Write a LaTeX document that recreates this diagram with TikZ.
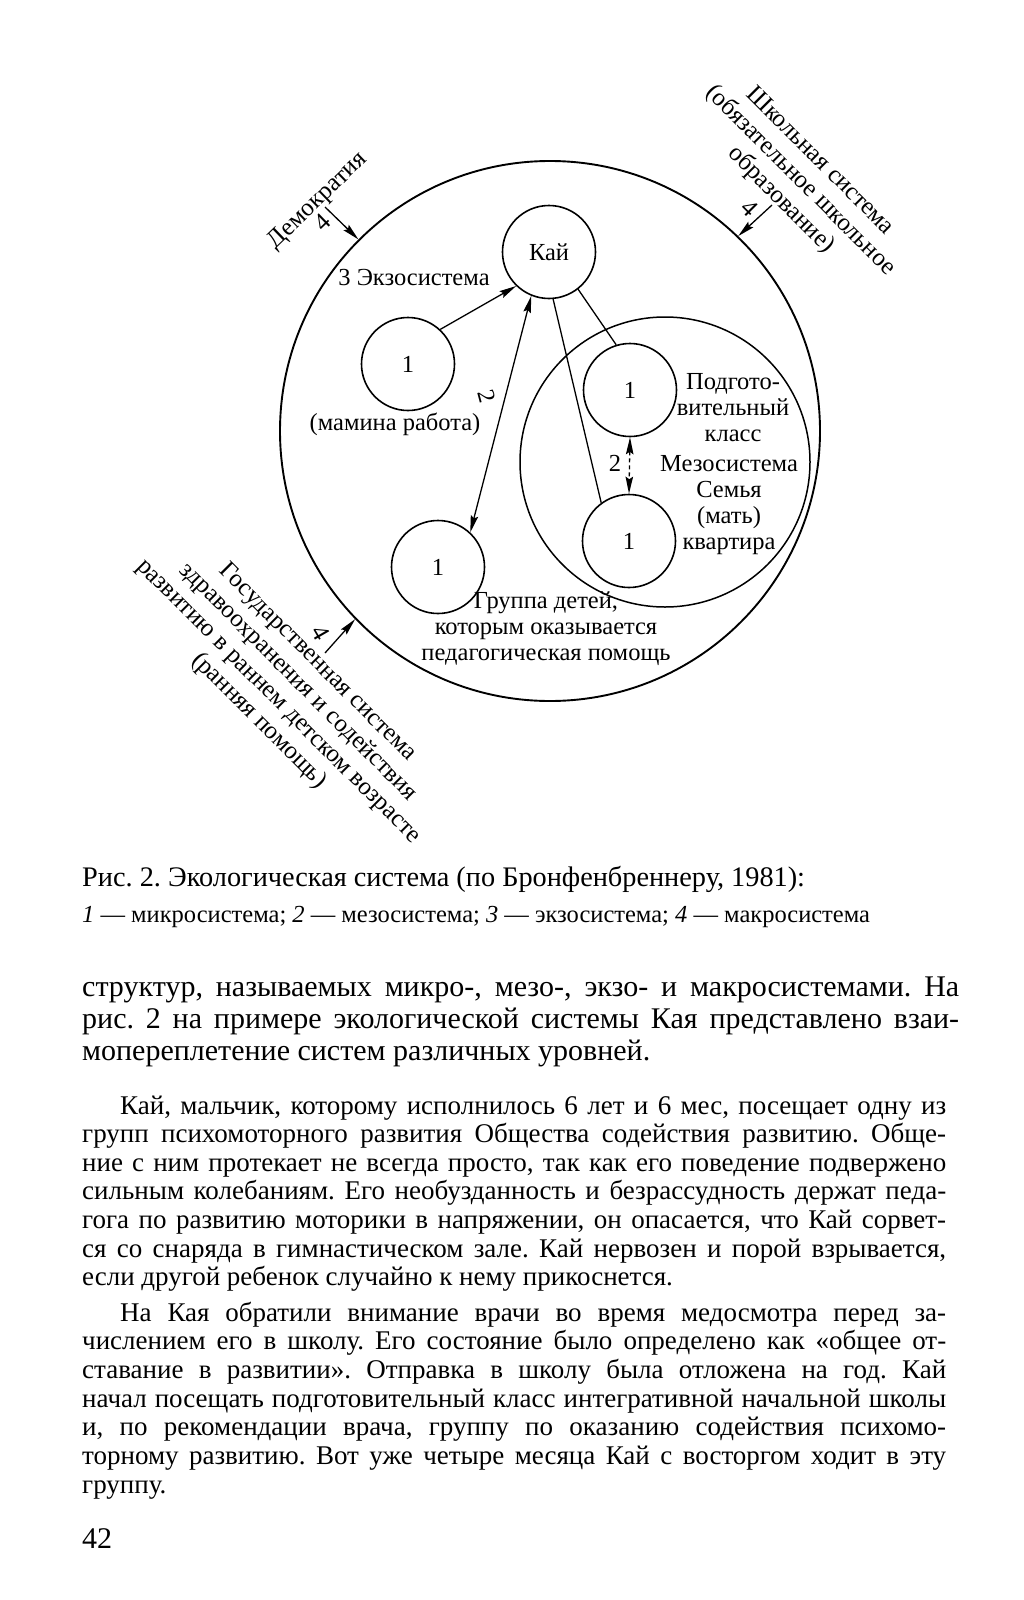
\documentclass[tikz,border=0pt]{standalone}
\usepackage{fontspec}
\setmainfont{Liberation Serif}
\usetikzlibrary{arrows.meta}
\newcommand{\dgfont}{\fontsize{24.5}{26}\selectfont}
\newcommand{\rtfont}{\fontsize{25}{27.5}\selectfont}
\newcommand{\bodyA}{\fontsize{30}{31}\selectfont}
\newcommand{\bodyB}{\fontsize{27}{28.5}\selectfont}
\newcommand{\capA}{\fontsize{28.3}{30}\selectfont}
\newcommand{\capB}{\fontsize{24.5}{27}\selectfont}
\frenchspacing
\begin{document}
\frenchspacing
\begin{tikzpicture}[x=1pt,y=-1pt,
  >={Stealth[length=17pt,width=7.5pt,inset=2.5pt]},
  bigc/.style={draw, circle, line width=1.9pt, minimum size=540pt, inner sep=0pt},
  mesoc/.style={draw, circle, line width=1.5pt, minimum size=290pt, inner sep=0pt},
  smallc/.style={draw, circle, line width=1.6pt, minimum size=93pt, inner sep=0pt, font=\dgfont},
  lbl/.style={font=\dgfont, inner sep=0pt, align=center},
  rlbl/.style={font=\rtfont, inner sep=0pt, align=center},
  conn/.style={line width=1.3pt},
  macro/.style={line width=1.3pt, ->},
  txtA/.style={font=\bodyA, anchor=base west, inner sep=0pt},
  txtB/.style={font=\bodyB, anchor=base west, inner sep=0pt}
]
\path[fill=white] (0,0) rectangle (1024,1600);

% circles
\node[bigc] (big) at (550,431) {};
\node[mesoc] (meso) at (665,462) {};
\node[smallc] (kai) at (549,252) {Кай};
\node[smallc] (mam) at (408,364) {1};
\node[smallc] (podg) at (630,390) {1};
\node[smallc] (fam) at (629,541) {1};
\node[smallc] (grp) at (438,567) {1};

% connectors
\draw[conn,->] (mam.47) -- (kai.226);
\draw[conn,<->] (kai.248) -- (grp.47);
\draw[conn] (kai.275) -- (fam.126);
\draw[conn] (kai.308) -- (podg.107);
\draw[conn,<->,dash pattern=on 4pt off 3pt] (podg.270) -- (fam.90);

% labels inside
\node[lbl] (exo) at (414,278) {3 Экзосистема};
\node[lbl] (mamlbl) at (395,424) {(мамина работа)};
\node[lbl, rotate=-75] (two1) at (487,396) {2};
\node[lbl] (two2) at (615,463) {2};
\node[lbl] (podglbl) at (733,408) {Подгото-\\вительный\\класс};
\node[lbl] (mesolbl) at (729,505) {Мезосистема\\Семья\\(мать)\\квартира};
\node[lbl] (grplbl) at (546,629) {Группа детей,\\которым оказывается\\педагогическая помощь};

% macrosystem arrows
\coordinate (demtail) at (325,207);
\coordinate (schtail) at (772,205);
\coordinate (gostail) at (325,653);
\draw[macro] (demtail) -- (big.135.1);
\draw[macro] (schtail) -- (big.46.2);
\draw[macro] (gostail) -- (big.224.4);
\node[rlbl, rotate=44] (four1) at (322,222) {4};
\node[rlbl, rotate=-45] (four2) at (750,208) {4};
\node[rlbl, rotate=-60] (four3) at (321,633) {4};

\node[rlbl, rotate=44] (dem) at (318,201) {Демократия};
\node[rlbl, rotate=-45] (school) at (800,181) {Школьная система\\(обязательное школьное\\образование)};
\node[rlbl, rotate=-45] (gos) at (288,692) {Государственная система\\здравоохранения и содействия\\развитию в раннем детском возрасте\\(ранняя помощь)};

% caption
\node[font=\capA, anchor=base west, inner sep=0pt] (cap1) at (82,886) {Рис. 2. Экологическая система (по Бронфенбреннеру, 1981):};
\node[font=\capB, anchor=base west, inner sep=0pt] (cap2) at (82,922) {\textit{1} — микросистема; \textit{2} — мезосистема; \textit{3} — экзосистема; \textit{4} — макросистема};

% body text
\node[txtA] (t1) at (82,996) {\makebox[877pt][s]{структур, называемых микро-, мезо-, экзо- и макросистемами. На}};
\node[txtA] (t2) at (82,1028) {\makebox[877pt][s]{рис. 2 на примере экологической системы Кая представлено взаи-}};
\node[txtA] (t3) at (82,1060) {мопереплетение систем различных уровней.};

\node[txtB] (t4) at (120,1114) {\makebox[826pt][s]{Кай, мальчик, которому исполнилось 6 лет и 6 мес, посещает одну из}};
\node[txtB] (t5) at (82,1142.6) {\makebox[864pt][s]{групп психомоторного развития Общества содействия развитию. Обще-}};
\node[txtB] (t6) at (82,1171.2) {\makebox[864pt][s]{ние с ним протекает не всегда просто, так как его поведение подвержено}};
\node[txtB] (t7) at (82,1199.8) {\makebox[864pt][s]{сильным колебаниям. Его необузданность и безрассудность держат педа-}};
\node[txtB] (t8) at (82,1228.4) {\makebox[864pt][s]{гога по развитию моторики в напряжении, он опасается, что Кай сорвет-}};
\node[txtB] (t9) at (82,1257) {\makebox[864pt][s]{ся со снаряда в гимнастическом зале. Кай нервозен и порой взрывается,}};
\node[txtB] (t10) at (82,1285.6) {если другой ребенок случайно к нему прикоснется.};

\node[txtB] (t11) at (120,1321) {\makebox[826pt][s]{На Кая обратили внимание врачи во время медосмотра перед за-}};
\node[txtB] (t12) at (82,1349.7) {\makebox[864pt][s]{числением его в школу. Его состояние было определено как «общее от-}};
\node[txtB] (t13) at (82,1378.4) {\makebox[864pt][s]{ставание в развитии». Отправка в школу была отложена на год. Кай}};
\node[txtB] (t14) at (82,1407.1) {\makebox[864pt][s]{начал посещать подготовительный класс интегративной начальной школы}};
\node[txtB] (t15) at (82,1435.8) {\makebox[864pt][s]{и, по рекомендации врача, группу по оказанию содействия психомо-}};
\node[txtB] (t16) at (82,1464.5) {\makebox[864pt][s]{торному развитию. Вот уже четыре месяца Кай с восторгом ходит в эту}};
\node[txtB] (t17) at (82,1493.2) {группу.};

\node[font=\bodyA, anchor=base west, inner sep=0pt] (pnum) at (82,1548) {42};
\end{tikzpicture}
\end{document}
